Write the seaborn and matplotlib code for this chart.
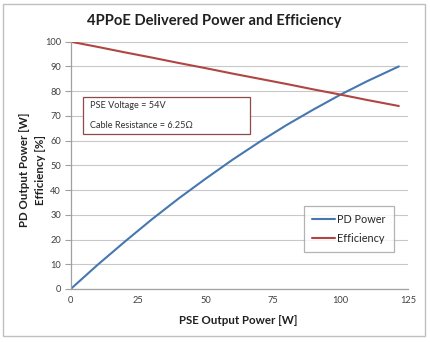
import matplotlib
matplotlib.use("Agg")
import matplotlib.pyplot as plt
import seaborn as sns
import pandas as pd
from matplotlib.patches import Rectangle

# Data
pse_power = [0, 10, 20, 30, 40, 50, 60, 70, 80, 90, 100, 110, 121.6]
pd_power = [0, 9.8, 19.1, 28.1, 36.6, 44.6, 52.3, 59.5, 66.3, 72.6, 78.6, 84.1, 90.0]
efficiency = [100, 97.9, 95.7, 93.6, 91.4, 89.3, 87.1, 85.0, 82.9, 80.7, 78.6, 76.4, 74.0]
series_names = ["PD Power", "Efficiency"]
series_colors = ["#4677B0", "#B04542"]
x_ticks = [0, 25, 50, 75, 100, 125]
y_ticks = [0, 10, 20, 30, 40, 50, 60, 70, 80, 90, 100]

df = pd.DataFrame({
    "x": pse_power * 2,
    "y": pd_power + efficiency,
    "series": [series_names[0]] * len(pse_power) + [series_names[1]] * len(pse_power),
})

sns.set_theme(style="white")
plt.rcParams["font.family"] = ["Lato", "DejaVu Sans"]

W, H = 431, 342
fig = plt.figure(figsize=(W / 100, H / 100), dpi=100)
ax = fig.add_axes([70.7 / W, 1 - 289 / H, (408 - 70.7) / W, (289 - 41.7) / H])

sns.lineplot(data=df, x="x", y="y", hue="series", palette=series_colors,
             hue_order=series_names, linewidth=1.5, ax=ax, legend=False, sort=False)

ax.set_xlim(0, 125)
ax.set_ylim(0, 100)
ax.set_xticks(x_ticks)
ax.set_yticks(y_ticks)
ax.tick_params(axis="both", labelsize=6.7, colors="#404040", length=3, width=0.8)
ax.tick_params(axis="x", length=0, pad=5)
ax.tick_params(axis="y", left=True, length=4, color="#A0A0A0", pad=3)
for lab in ax.get_xticklabels() + ax.get_yticklabels():
    lab.set_color("#404040")
ax.grid(axis="y", color="#C8C8C8", linewidth=0.8)
ax.set_axisbelow(True)
for s in ["top", "right"]:
    ax.spines[s].set_visible(False)
for s in ["left", "bottom"]:
    ax.spines[s].set_color("#A0A0A0")
    ax.spines[s].set_linewidth(0.9)
ax.set_xlabel("")
ax.set_ylabel("")

# Title and axis labels
fig.text(214 / W, 1 - 21 / H, "4PPoE Delivered Power and Efficiency",
         ha="center", va="center", fontsize=10.6, fontweight="bold", color="#202020")
fig.text(238 / W, 1 - 320 / H, "PSE Output Power [W]",
         ha="center", va="center", fontsize=8.3, fontweight="bold", color="#202020")
fig.text(32.5 / W, 1 - 170 / H, "PD Output Power [W]\nEfficiency [%]",
         ha="center", va="center", rotation=90, fontsize=8.3, fontweight="bold",
         color="#202020", linespacing=1.45, multialignment="center")

# Annotation box
ax.add_patch(Rectangle((0.036, 0.626), 0.496, 0.152, transform=ax.transAxes,
                       facecolor="white", edgecolor="#8C4A48", linewidth=0.9, zorder=5))
ax.text(0.057, 0.74, "PSE Voltage = 54V", transform=ax.transAxes, fontsize=6.6,
        va="center", ha="left", color="#303030", zorder=6)
ax.text(0.057, 0.663, "Cable Resistance = 6.25\u03a9", transform=ax.transAxes, fontsize=6.6,
        va="center", ha="left", color="#303030", zorder=6)

# Legend
handles = [plt.Line2D([], [], color=c, linewidth=1.5) for c in series_colors]
leg = ax.legend(handles, series_names, loc="upper left", bbox_to_anchor=(0.692, 0.336),
                borderaxespad=0, fontsize=7.8, frameon=True, fancybox=False,
                edgecolor="#A0A0A0", handlelength=2.1, handletextpad=0.2,
                labelspacing=0.7, borderpad=0.75)
leg.get_frame().set_linewidth(0.9)

# Outer chart border
fig.patches.append(Rectangle((3 / W, 1 - 336 / H), (425 - 3) / W, (336 - 4) / H,
                             transform=fig.transFigure, fill=False,
                             edgecolor="#C0C0C0", linewidth=1.0))

fig.savefig("out.png", dpi=100)
